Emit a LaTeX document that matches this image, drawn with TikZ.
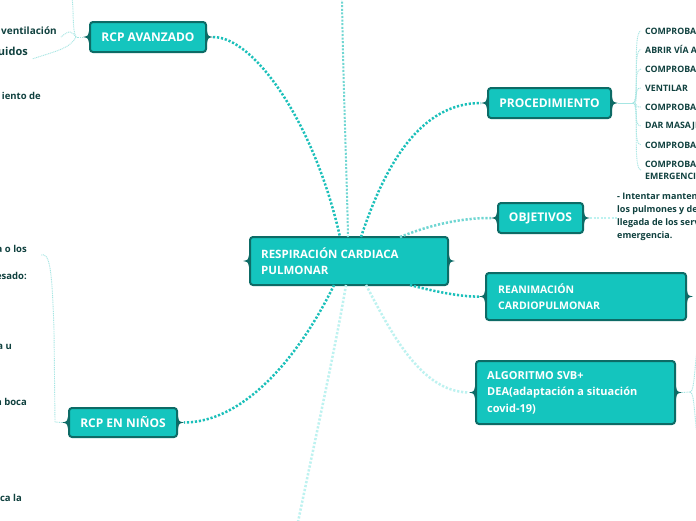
\documentclass[tikz,border=0pt]{standalone}
\usepackage{fontspec}
\setmainfont{Open Sans}
\definecolor{fillc}{HTML}{14C5BE}
\definecolor{bord}{HTML}{0D6B66}
\definecolor{lnk}{HTML}{1BC0BA}
\definecolor{lnkb}{HTML}{6FD6D2}
\definecolor{lnkc}{HTML}{BDF2F0}
\definecolor{lnkd}{HTML}{A6E6E3}
\definecolor{txt}{HTML}{10413F}
\newcommand\bnotch[1]{%
  \fill[bord] ([yshift=6pt]#1.west) .. controls ([xshift=-1pt,yshift=1pt]#1.west) .. ([xshift=-6pt]#1.west) .. controls ([xshift=-1pt,yshift=-1pt]#1.west) .. ([yshift=-6pt]#1.west) -- cycle;
  \fill[bord] ([yshift=6pt]#1.east) .. controls ([xshift=1pt,yshift=1pt]#1.east) .. ([xshift=6pt]#1.east) .. controls ([xshift=1pt,yshift=-1pt]#1.east) .. ([yshift=-6pt]#1.east) -- cycle;}
\tikzset{
  box/.style={draw=bord, fill=fillc, line width=2pt, rounded corners=3pt, text=white,
    font=\fontsize{12}{16}\selectfont\bfseries, inner sep=0pt, align=center},
  mbox/.style={box, align=left, inner xsep=12pt},
  conn/.style={lnk, line width=2.5pt, dash pattern=on 2.2pt off 1.8pt},
  connb/.style={lnkb, line width=2.5pt, dash pattern=on 2.2pt off 1.8pt},
  connc/.style={lnkc, line width=2.5pt, dash pattern=on 2.2pt off 1.8pt},
  conntop/.style={lnkb, line width=2pt, dash pattern=on 2pt off 1.6pt},
  thin/.style={lnkd, line width=0.9pt, dash pattern=on 1pt off 0.8pt},
  leaf/.style={text=txt, font=\fontsize{8.8}{12}\selectfont\bfseries, inner sep=0pt, align=left},
  lleaf/.style={text=txt, font=\fontsize{9.5}{12}\selectfont\bfseries, inner sep=0pt, anchor=base east},
}
\begin{document}
\begin{tikzpicture}[x=1pt,y=-1pt]
\useasboundingbox (0,0) rectangle (696,520);
\clip (0,0) rectangle (696,520);
\fill[white] (0,0) rectangle (696,520);

% main nodes
\node[box, minimum width=198pt, minimum height=48pt] (cen) at (349,261) {};
\node[box, minimum width=116pt, minimum height=30pt] (av) at (148,37) {RCP AVANZADO};
\node[box, minimum width=123pt, minimum height=30pt] (proc) at (549.5,103) {PROCEDIMIENTO};
\node[box, minimum width=85pt, minimum height=30pt] (obj) at (540.5,218) {OBJETIVOS};
\node[box, minimum width=200pt, minimum height=47pt] (rea) at (586,296.5) {};
\node[box, minimum width=199pt, minimum height=63pt] (alg) at (575.5,392.5) {};
\node[box, minimum width=108pt, minimum height=29pt] (nin) at (123,422.5) {RCP EN NIÑOS};

% texts of the multi-line boxes
\node[anchor=west, text=white, inner sep=0pt, align=left, font=\fontsize{11.5}{16}\selectfont\bfseries] (cent) at ([xshift=12pt]cen.west) {RESPIRACIÓN CARDIACA\\PULMONAR};
\node[anchor=west, text=white, inner sep=0pt, align=left, font=\fontsize{10.5}{16}\selectfont\bfseries] (reat) at ([xshift=13pt]rea.west) {REANIMACIÓN\\CARDIOPULMONAR};
\node[anchor=west, text=white, inner sep=0pt, align=left, font=\fontsize{11}{16.5}\selectfont\bfseries] (algt) at ([xshift=12pt]alg.west) {ALGORITMO SVB+\\DEA(adaptación a situación\\covid-19)};

% coordinates on the central node
\coordinate (ct1) at (340,237);
\coordinate (ct2) at (348,237);
\coordinate (ct3) at (361,237);
\coordinate (ct4) at (400,237);
\coordinate (cb1) at (334,285);
\coordinate (cb2) at (346,285);
\coordinate (cb3) at (366,285);
\coordinate (cb4) at (410,285);
\coordinate (topend) at (342,-2);
\coordinate (botend) at (298,522);

% main connectors
\draw[conntop] (topend) .. controls (343,80) and (347,180) .. (ct2);
\draw[connc] (cb2) .. controls (335,350) and (315,440) .. (botend);
\draw[connc] (cb3) .. controls (390,330) and (420,392) .. ([xshift=-6pt]alg.west);
\draw[conn] ([xshift=6pt]av.east) .. controls (255,37) and (315,125) .. (ct1);
\draw[conn] (ct3) .. controls (385,165) and (420,103) .. ([xshift=-6pt]proc.west);
\draw[connb] (ct4) .. controls (430,225) and (460,218) .. ([xshift=-6pt]obj.west);
\draw[conn] (cb4) .. controls (440,293) and (465,297) .. ([xshift=-6pt]rea.west);
\draw[conn] (cb1) .. controls (305,345) and (250,422) .. ([xshift=6pt]nin.east);

\bnotch{cen}\bnotch{av}\bnotch{proc}\bnotch{obj}\bnotch{rea}\bnotch{alg}\bnotch{nin}

% procedimiento children
\coordinate (pb) at (633,103);
\draw[lnkd, line width=1pt] ([xshift=6pt]proc.east) -- (pb);
\node[leaf, anchor=west] (p1) at (645,31) {COMPROBAR};
\node[leaf, anchor=west] (p2) at (645,49.5) {ABRIR VÍA AÉREA};
\node[leaf, anchor=west] (p3) at (645,69) {COMPROBAR};
\node[leaf, anchor=west] (p4) at (645,88) {VENTILAR};
\node[leaf, anchor=west] (p5) at (645,107) {COMPROBAR};
\node[leaf, anchor=west] (p6) at (645,126) {DAR MASAJE};
\node[leaf, anchor=west] (p7) at (645,145) {COMPROBAR};
\node[leaf, anchor=west] (p8) at (645,170) {COMPROBAR\\EMERGENCIAS};
\foreach \n in {p1,p2,p3,p4,p5,p6,p7,p8}{
  \draw[thin] (pb) .. controls (640,103) and (632,0 |- \n.west) .. ([xshift=-4pt]\n.west);
}

% objetivos child
\node[leaf, anchor=north west, font=\fontsize{9}{13}\selectfont\bfseries] (o1) at (617,192.5) {- Intentar mantener\\los pulmones y del\\llegada de los servicios\\emergencia.};
\draw[lnkc, line width=2pt, dash pattern=on 2pt off 1.6pt] ([xshift=6pt]obj.east) -- (o1.west |- obj.east);

% right stubs
\coordinate (ab) at (690,392);
\draw[thin] ([xshift=6pt]alg.east) -- (ab);
\draw[thin] (ab) .. controls (694,392) and (694,375) .. (697,350);
\draw[thin] (ab) .. controls (694,392) and (694,410) .. (697,435);

% left side: RCP avanzado children
\coordinate (avb) at (76,37);
\draw[thin] ([xshift=-6pt]av.west) -- (avb);
\node[lleaf, font=\fontsize{10}{12}\selectfont\bfseries] (l1) at (57,34) {ventilación};
\node[lleaf, font=\fontsize{11}{12}\selectfont\bfseries] (l2) at (28,55) {uidos};
\node[lleaf, anchor=base east] (l3) at (41,99) {iento de};
\draw[thin] (avb) .. controls (72,30) and (74,10) .. (72,-2);
\draw[thin] (avb) .. controls (72,32) and (70,29) .. ([xshift=4pt,yshift=-3pt]l1.base east);
\draw[thin] (avb) .. controls (70,48) and (60,50) .. ([xshift=4pt,yshift=-4pt]l2.base east);

% left side: RCP en ninos children
\node[lleaf] (m1) at (27,252) {a o los};
\node[lleaf] (m2) at (27,279) {esado:};
\node[lleaf] (m3) at (12,349) {a u};
\node[lleaf] (m4) at (27,405) {a boca};
\node[lleaf] (m5) at (22,501) {ca la};
\coordinate (nb) at (55,422);
\draw[thin] ([xshift=-6pt]nin.west) -- (nb);
\draw[thin] (nb) -- (54,330) .. controls (52,270) and (50,252) .. ([xshift=14pt,yshift=-3pt]m1.base east);
\end{tikzpicture}
\end{document}
